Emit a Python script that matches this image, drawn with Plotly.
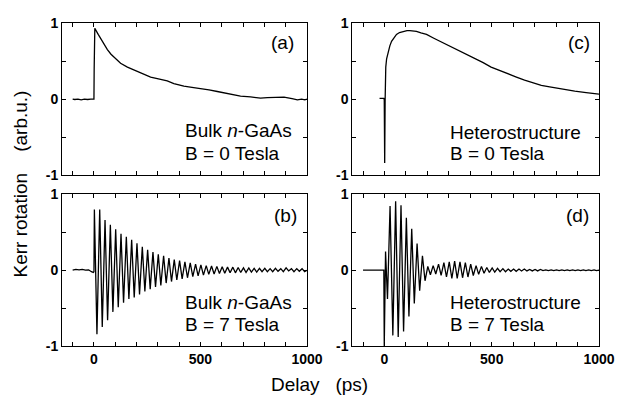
import plotly.graph_objects as go
from plotly.subplots import make_subplots

# ---------------- data ----------------
# (a) Bulk n-GaAs, B = 0 T
a_t = [-100, -90, -75, -60, -45, -30, -15, -5, 0, 1, 4, 20, 40, 63, 80, 94, 125, 157, 190, 219,
       266, 313, 344, 375, 422, 460, 500, 540, 579, 620, 657, 688, 735, 782, 814, 850, 892,
       930, 955, 975, 990, 1000]
a_v = [0.0, -0.005, 0.0, -0.01, 0.0, -0.005, 0.0, -0.005, 0.0, 0.4, 0.93, 0.85, 0.75, 0.65, 0.59,
       0.55, 0.47, 0.42, 0.38, 0.355, 0.29, 0.26, 0.24, 0.205, 0.17, 0.155, 0.14, 0.12, 0.10, 0.08,
       0.056, 0.04, 0.03, 0.013, 0.02, 0.02, 0.026, 0.005, -0.01, 0.0, -0.01, 0.0]

# (b) Bulk n-GaAs, B = 7 T  (pre-pulse baseline, then successive extrema)
b_t = [-100, -85, -70, -55, -40, -25, -12, -3, 0,
       2, 14, 27, 39, 52, 64, 77, 89, 102, 114, 127, 139, 152, 164, 177, 189,
       202, 214, 227, 239, 252, 264, 277, 289, 302, 314, 327, 339, 352, 364, 377, 389,
       402, 414, 427, 439, 452, 464, 477, 489, 502, 514, 527, 539, 552, 564, 577, 589,
       602, 614, 627, 639, 652, 664, 677, 689, 702, 714, 727, 739, 752, 764, 777, 789,
       802, 814, 827, 839, 852, 864, 877, 889, 902, 914, 927, 939, 952, 964, 977, 989,
       1000]
b_v = [0.0, 0.01, 0.005, 0.01, 0.0, 0.005, -0.02, -0.03, -0.02,
       0.80, -0.845, 0.80, -0.75, 0.66, -0.66, 0.60, -0.55, 0.54, -0.49, 0.48, -0.43,
       0.44, -0.38, 0.40, -0.36,
       0.355, -0.32, 0.31, -0.28, 0.27, -0.25, 0.24, -0.22, 0.21, -0.20, 0.19, -0.17,
       0.16, -0.15, 0.14, -0.13,
       0.125, -0.115, 0.11, -0.10, 0.095, -0.085, 0.08, -0.075, 0.07, -0.065, 0.06, -0.055,
       0.055, -0.05, 0.05, -0.045,
       0.045, -0.04, 0.04, -0.035, 0.04, -0.035, 0.035, -0.03, 0.03, -0.03, 0.03, -0.025,
       0.025, -0.025, 0.025, -0.02,
       0.025, -0.02, 0.02, -0.02, 0.025, -0.015, 0.02, -0.02, 0.03, -0.01, 0.02, -0.02,
       0.02, -0.015, 0.02, -0.02,
       0.0]

# (c) Heterostructure, B = 0 T
c_t = [-23, -3, -1, 1, 3, 4, 6, 10, 17, 25, 33, 45, 56, 70, 87, 105, 118, 135, 149, 170, 196,
       230, 273, 310, 351, 390, 429, 460, 497, 540, 575, 615, 653, 690, 731, 770, 809, 850,
       887, 940, 1000]
c_v = [0.01, 0.01, -0.01, -0.84, -0.02, 0.2, 0.42, 0.53, 0.63, 0.70, 0.76, 0.81, 0.85, 0.875,
       0.89, 0.90, 0.90, 0.895, 0.89, 0.87, 0.85, 0.80, 0.74, 0.69, 0.63, 0.58, 0.53, 0.48,
       0.42, 0.37, 0.33, 0.29, 0.25, 0.215, 0.18, 0.16, 0.14, 0.12, 0.105, 0.085, 0.065]

# (d) Heterostructure, B = 7 T
d_t = [-100, -50, -3, -1, 5,
       14, 26, 39, 52, 64, 77, 89, 102, 114, 127, 139, 152, 164, 177, 189,
       202, 214, 227, 239, 252, 264, 277, 289, 302, 314, 327, 339, 352, 364, 377, 389,
       402, 414, 427, 439, 452, 464, 477, 489, 502, 514, 527, 539, 552, 564, 577, 589,
       602, 614, 627, 639, 652, 664, 677, 689, 702, 714, 727, 739, 752, 764, 777, 789,
       802, 814, 827, 839, 852, 864, 877, 889, 902, 914, 927, 939, 952, 964, 977, 989,
       1000]
d_v = [0.0, 0.0, 0.0, -1.0, 0.245,
       -0.38, 0.845, -0.86, 0.91, -0.88, 0.855, -0.81, 0.69, -0.61, 0.545, -0.44, 0.35,
       -0.27, 0.19, -0.14,
       0.05, -0.06, 0.06, -0.05, 0.08, -0.07, 0.10, -0.09, 0.11, -0.11, 0.12, -0.11,
       0.11, -0.10, 0.10, -0.09,
       0.08, -0.07, 0.06, -0.055, 0.05, -0.04, 0.035, -0.03, 0.03, -0.025, 0.025, -0.02,
       0.02, -0.02, 0.015, -0.015,
       0.015, -0.015, 0.015, -0.01, 0.015, -0.01, 0.01, -0.01, 0.01, -0.01, 0.01, -0.005,
       0.005, -0.005, 0.005, -0.005,
       0.005, -0.005, 0.005, -0.005, 0.005, -0.005, 0.005, -0.005, 0.005, -0.005, 0.005,
       -0.005, 0.005, -0.005, 0.005, -0.005,
       0.0]

x_tickvals = [-100, 0, 100, 200, 300, 400, 500, 600, 700, 800, 900, 1000]
x_ticktext = ["", "0", "", "", "", "", "500", "", "", "", "", "1000"]
y_tickvals = [-1, -0.5, 0, 0.5, 1]
y_ticktext = ["-1", "", "0", "", "1"]

panel_letters = ["(a)", "(b)", "(c)", "(d)"]
sample_names = ["Bulk <i>n</i>-GaAs", "Bulk <i>n</i>-GaAs", "Heterostructure", "Heterostructure"]
field_labels = ["B = 0 Tesla", "B = 7 Tesla", "B = 0 Tesla", "B = 7 Tesla"]

# ---------------- figure ----------------
FONT = "Liberation Sans, Arial, sans-serif"
fig = make_subplots(rows=2, cols=2)

series = [(a_t, a_v, 1, 1), (b_t, b_v, 2, 1), (c_t, c_v, 1, 2), (d_t, d_v, 2, 2)]
for t, v, r, c in series:
    fig.add_trace(go.Scatter(x=t, y=v, mode="lines", line=dict(color="black", width=1.3),
                             showlegend=False, hoverinfo="skip"), row=r, col=c)

xdom = {1: [0, 0.4562], 2: [0.5406, 1]}
ydom = {1: [0.5287, 1], 2: [0, 0.4695]}

for r in (1, 2):
    for c in (1, 2):
        fig.update_xaxes(row=r, col=c, domain=xdom[c], range=[-150, 1000],
                         tickvals=x_tickvals,
                         ticktext=x_ticktext if r == 2 else [""] * len(x_tickvals),
                         ticks="inside", ticklen=4, tickwidth=1, tickcolor="black",
                         showline=True, linecolor="black", linewidth=1, mirror="ticks",
                         showgrid=False, zeroline=False,
                         tickfont=dict(family=FONT, size=14, color="black", weight="bold"))
        fig.update_yaxes(row=r, col=c, domain=ydom[r], range=[-1, 1],
                         tickvals=y_tickvals, ticktext=y_ticktext,
                         ticks="inside", ticklen=4, tickwidth=1, tickcolor="black",
                         showline=True, linecolor="black", linewidth=1, mirror="ticks",
                         showgrid=False, zeroline=False,
                         tickfont=dict(family=FONT, size=14, color="black", weight="bold"))

# panel annotations
axis_ids = [("x", "y"), ("x3", "y3"), ("x2", "y2"), ("x4", "y4")]
letter_pos = [(885, 0.74), (898, 0.72), (907, 0.74), (902, 0.72)]
text_left = [416, 416, 298, 298]
line1_y = [-0.415, -0.42, -0.435, -0.42]
line2_y = [-0.713, -0.71, -0.72, -0.71]

annots = []
for i, (xr, yr) in enumerate(axis_ids):
    annots.append(dict(xref=xr, yref=yr, x=letter_pos[i][0], y=letter_pos[i][1],
                       text=panel_letters[i], showarrow=False, xanchor="center", yanchor="middle",
                       font=dict(family=FONT, size=19, color="black")))
    annots.append(dict(xref=xr, yref=yr, x=text_left[i], y=line1_y[i], text=sample_names[i],
                       showarrow=False, xanchor="left", yanchor="middle",
                       font=dict(family=FONT, size=19, color="black")))
    annots.append(dict(xref=xr, yref=yr, x=text_left[i], y=line2_y[i], text=field_labels[i],
                       showarrow=False, xanchor="left", yanchor="middle",
                       font=dict(family=FONT, size=19, color="black")))

annots.append(dict(xref="paper", yref="paper", x=-0.0764, y=0.503,
                   text="Kerr rotation\u00a0\u00a0\u00a0\u00a0(arb.u.)", textangle=-90,
                   showarrow=False, xanchor="center", yanchor="middle",
                   font=dict(family=FONT, size=19, color="black")))
annots.append(dict(xref="paper", yref="paper", x=0.4804, y=-0.118,
                   text="Delay\u00a0\u00a0\u00a0(ps)", showarrow=False,
                   xanchor="center", yanchor="middle",
                   font=dict(family=FONT, size=19, color="black")))

# the page body adds an 8 px offset; compensate so the plot areas sit where the reference has them
fig.update_layout(width=620, height=388, margin=dict(l=54, r=29, t=7, b=50),
                  paper_bgcolor="white", plot_bgcolor="white", annotations=annots,
                  font=dict(family=FONT, color="black"))

fig.write_html("out.html")
